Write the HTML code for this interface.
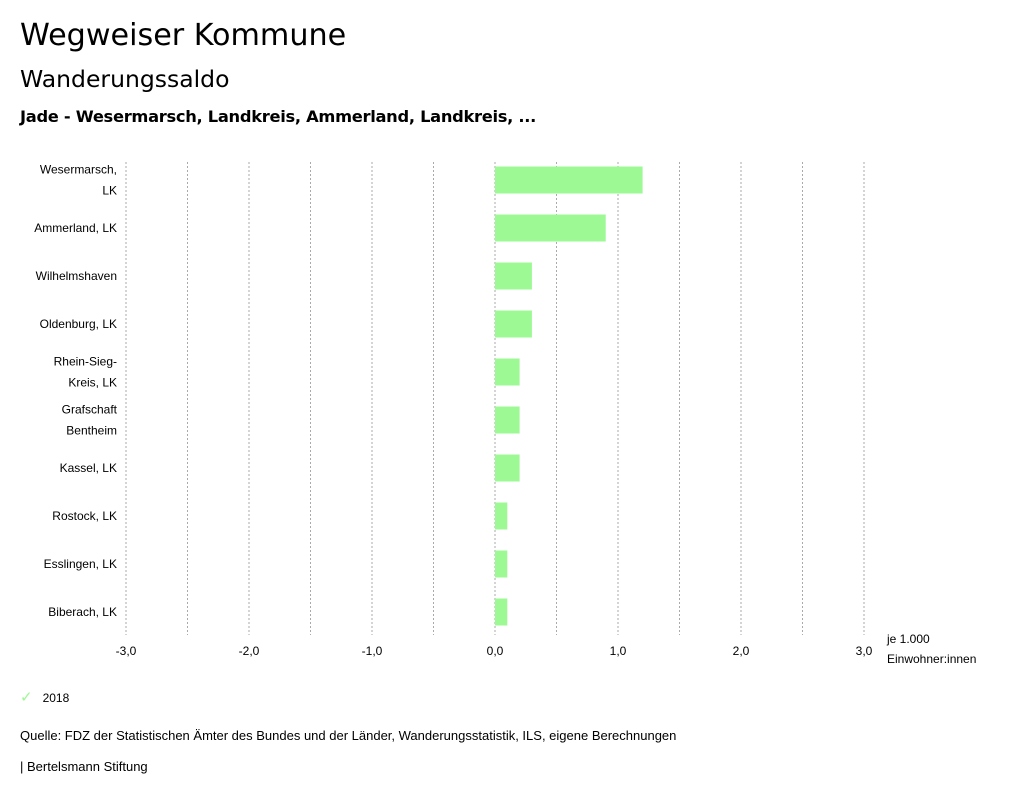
<!DOCTYPE html>
<html><head><meta charset="utf-8"><style>
body{margin:0;background:#fff;width:1024px;height:799px;overflow:hidden;font-family:"Liberation Sans",sans-serif;color:#000}
.t{position:absolute;white-space:nowrap}
.h{font-family:"DejaVu Sans",sans-serif}
</style></head><body>
<div class="t h" style="left:20px;top:18px;font-size:30.2px">Wegweiser Kommune</div>
<div class="t h" style="left:20px;top:65px;font-size:23.5px">Wanderungssaldo</div>
<div class="t h" style="left:20px;top:107px;font-size:16.3px;font-weight:bold;letter-spacing:-0.3px">Jade - Wesermarsch, Landkreis, Ammerland, Landkreis, ...</div>
<svg id="c" width="1024" height="700" style="position:absolute;left:0;top:0;font-family:'Liberation Sans',sans-serif;font-size:12px"></svg>
<div class="t" style="left:20px;top:688px;font-size:12px"><span style="color:#9cf994;font-size:15px">✓</span>&nbsp;&nbsp;&nbsp;2018</div>
<div class="t" style="left:20px;top:728px;font-size:13px">Quelle: FDZ der Statistischen Ämter des Bundes und der Länder, Wanderungsstatistik, ILS, eigene Berechnungen</div>
<div class="t" style="left:20px;top:759px;font-size:13px">| Bertelsmann Stiftung</div>
<script>
const categories=[["Wesermarsch,","LK"],["Ammerland, LK"],["Wilhelmshaven"],["Oldenburg, LK"],["Rhein-Sieg-","Kreis, LK"],["Grafschaft","Bentheim"],["Kassel, LK"],["Rostock, LK"],["Esslingen, LK"],["Biberach, LK"]];
const values2018=[1.2,0.9,0.3,0.3,0.2,0.2,0.2,0.1,0.1,0.1];
const tickValues=[-3,-2,-1,0,1,2,3];
const tickLabels=["-3,0","-2,0","-1,0","0,0","1,0","2,0","3,0"];
const svg=document.getElementById('c');const NS='http://www.w3.org/2000/svg';
const x=v=>495+v*123;const y=i=>180+i*48;
function mk(t,a,p){const e=document.createElementNS(NS,t);for(const k in a)e.setAttribute(k,a[k]);(p||svg).appendChild(e);return e;}
for(let g=-3;g<=3.001;g+=0.5){const l=mk('line',{x1:x(g),x2:x(g),y1:162,y2:635,stroke:'#aaa','stroke-dasharray':'2,2'});

}
tickValues.forEach((v,i)=>{const t=mk('text',{x:x(v),y:655,'text-anchor':'middle'});t.textContent=tickLabels[i];

});
categories.forEach((c,i)=>{const r=mk('rect',{x:x(Math.min(0,values2018[i])),y:y(i)-13.5,width:Math.abs(x(values2018[i])-x(0)),height:27,fill:'#9cf994'});


c.forEach((ln,j)=>{const t=mk('text',{x:117,y:y(i)+4+(c.length>1?(j*21-10.5):0),'text-anchor':'end'});t.textContent=ln;

});});
const u1=mk('text',{x:887,y:643});u1.textContent='je 1.000';


const u2=mk('text',{x:887,y:663});u2.textContent='Einwohner:innen';


</script>
</body></html>
